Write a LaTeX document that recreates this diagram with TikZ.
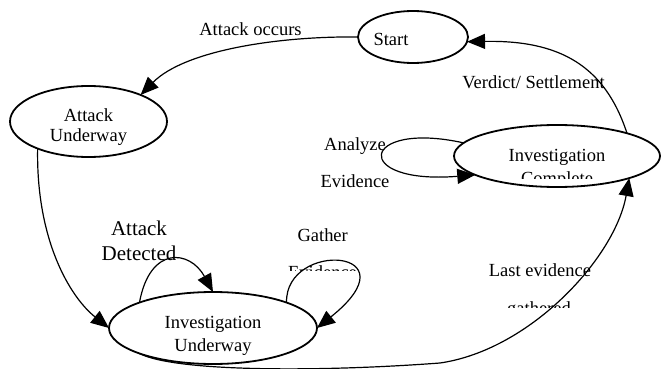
\documentclass[tikz,border=0pt]{standalone}
\usepackage{fontspec}
\setmainfont{Liberation Serif}
\usetikzlibrary{shapes.geometric,arrows.meta}
\begin{document}
\begin{tikzpicture}[x=1pt,y=-1pt,
  state/.style={ellipse,draw,line width=1.8pt,inner sep=0pt,outer sep=0pt},
  edge/.style={line width=1.2pt,-{Triangle[length=18pt,width=15pt]}},
  lbl/.style={font=\fontsize{18.5}{21}\selectfont,inner sep=0pt,anchor=base},
  biglbl/.style={font=\fontsize{21}{24}\selectfont,inner sep=0pt,anchor=base}]
\useasboundingbox (0,0) rectangle (662,369);
% states
\node[state,minimum width=110pt,minimum height=52pt] (start) at (413,37) {};
\node[state,minimum width=157pt,minimum height=71pt] (au) at (88.5,121.5) {};
\node[state,minimum width=206pt,minimum height=62pt] (ic) at (557,156) {};
\node[state,minimum width=208pt,minimum height=72pt] (iu) at (213,328) {};
% state texts
\node[lbl] (tstart) at (391,45.7) {Start};
\node[lbl] (tau1) at (88.5,121.7) {Attack};
\node[lbl] (tau2) at (88.5,141.7) {Underway};
\node[lbl] (tic1) at (557,161.7) {Investigation};
\begin{scope}
  \clip (450,150) rectangle (662,178.5);
  \node[lbl] (tic2) at (557,184) {Complete};
\end{scope}
\node[lbl] (tiu1) at (213,328.3) {Investigation};
\node[lbl] (tiu2) at (213,351) {Underway};
% edges
\draw[edge] (start.west) .. controls (280,36) and (185,50) .. (au.27);
\draw[edge] (ic.18) .. controls (605,66) and (560,40) .. (start.-5);
\draw[edge] (au.208) .. controls (36,240) and (70,297) .. (iu.west);
\draw[edge] (iu.north west) .. controls (150,245) and (190,250) .. (iu.north);
\draw[edge] (iu.north east) .. controls (285,240) and (417,248) .. (iu.east);
\draw[edge] (ic.172) .. controls (360,120) and (350,185) .. (ic.193.7);
\coordinate (mid) at (440,363);
\draw[edge] (iu.south west) .. controls (175,372) and (320,372) .. (mid)
  .. controls (530,350) and (615,258) .. (ic.-17);
% edge labels
\node[lbl] (l1) at (250.5,36) {Attack occurs};
\node[lbl] (l2) at (533.5,88.3) {Verdict/ Settlement};
\node[lbl] (l3) at (355,150.7) {Analyze};
\node[lbl] (l4) at (355,187.7) {Evidence};
\node[biglbl] (l5) at (139,235) {Attack};
\node[biglbl] (l6) at (139,260) {Detected};
\node[lbl] (l7) at (322.7,241.7) {Gather};
\begin{scope}
  \clip (280,250) rectangle (370,270);
  \node[lbl] (l8) at (322.5,278) {Evidence};
\end{scope}
\node[lbl] (l9) at (540,276) {Last evidence};
\begin{scope}
  \clip (490,290) rectangle (590,307.5);
  \node[lbl] (l10) at (539,314) {gathered};
\end{scope}
\end{tikzpicture}
\end{document}
